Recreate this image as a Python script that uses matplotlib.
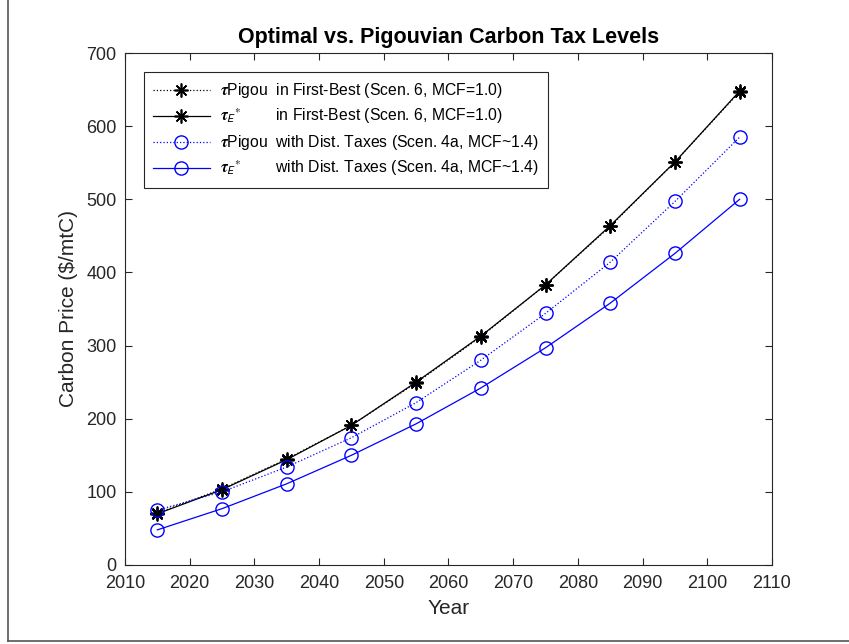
"""Optimal vs. Pigouvian carbon tax levels."""
import matplotlib
matplotlib.use("Agg")
import matplotlib.pyplot as plt
from matplotlib.lines import Line2D

plt.rcParams.update({"font.family": ["Liberation Sans", "DejaVu Sans"],
                     "mathtext.fontset": "stix"})

years = [2015, 2025, 2035, 2045, 2055, 2065, 2075, 2085, 2095, 2105]
pigou_fb = [71, 104, 145, 191, 249, 312, 383, 463, 551, 647]
tau_fb = [70, 103, 144, 191, 250, 313, 383, 464, 551, 648]
pigou_dist = [75, 100, 134, 174, 222, 280, 344, 414, 497, 585]
tau_dist = [48, 77, 111, 150, 193, 242, 297, 358, 426, 500]

labels = [
    r"$\boldsymbol{\tau}$Pigou  in First-Best (Scen. 6, MCF=1.0)",
    r"$\boldsymbol{\tau}_{\mathsf{E}}{}^{*}$        in First-Best (Scen. 6, MCF=1.0)",
    r"$\boldsymbol{\tau}$Pigou  with Dist. Taxes (Scen. 4a, MCF~1.4)",
    r"$\boldsymbol{\tau}_{\mathsf{E}}{}^{*}$        with Dist. Taxes (Scen. 4a, MCF~1.4)",
]

BLUE = "#0000FF"
STAR = (8, 2, 0)
fig = plt.figure(figsize=(8.49, 6.44), dpi=100)
ax = fig.add_axes([0.1472, 0.1227, 0.7621, 0.795])

ax.plot(years, pigou_fb, color="black", linestyle=":", linewidth=0.9,
        marker=STAR, markersize=10, markeredgewidth=1.2, label=labels[0])
ax.plot(years, tau_fb, color="black", linestyle="-", linewidth=0.9,
        marker=STAR, markersize=10, markeredgewidth=1.2, label=labels[1])
ax.plot(years, pigou_dist, color=BLUE, linestyle=":", linewidth=0.9,
        marker="o", markersize=9.5, markerfacecolor="none", label=labels[2])
ax.plot(years, tau_dist, color=BLUE, linestyle="-", linewidth=0.9,
        marker="o", markersize=9.5, markerfacecolor="none", label=labels[3])

ax.set_xlim(2010, 2110)
ax.set_ylim(0, 700)
ax.set_xticks(range(2010, 2111, 10))
ax.set_yticks(range(0, 701, 100))
ax.tick_params(direction="in", top=True, right=True, labelsize=13,
               colors="#262626", length=5)
ax.tick_params(axis="x", pad=7)
ax.tick_params(axis="y", pad=6)
for s in ax.spines.values():
    s.set_color("#262626")
    s.set_linewidth(0.8)

ax.set_xlabel("Year", fontsize=15, color="#262626", labelpad=5)
ax.set_ylabel("Carbon Price ($/mtC)", fontsize=15, color="#262626", labelpad=6)
ax.set_title("Optimal vs. Pigouvian Carbon Tax Levels", fontsize=15.5,
             fontweight="bold", pad=7)

leg = ax.legend(loc="upper left", fontsize=11.3, fancybox=False,
                framealpha=1, edgecolor="#262626", handlelength=3.6,
                borderaxespad=1.2, labelspacing=0.42, handletextpad=0.64,
                borderpad=0.6)
leg.get_frame().set_linewidth(0.8)

# partial figure frame seen in the screenshot
fig.add_artist(Line2D([8 / 849, 8 / 849], [3 / 644, 1], color="#555555", lw=1.2))
fig.add_artist(Line2D([8 / 849, 1], [3 / 644, 3 / 644], color="#555555", lw=1.2))

fig.savefig("out.png", dpi=100)
